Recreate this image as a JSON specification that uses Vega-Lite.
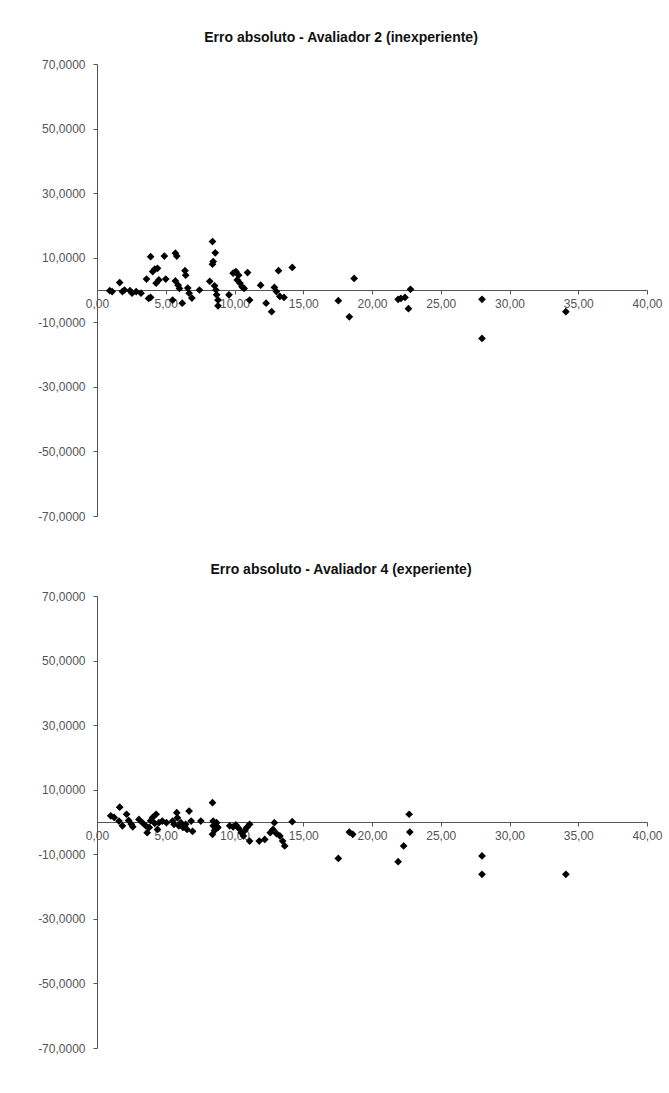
{
  "$schema": "https://vega.github.io/schema/vega-lite/v6.json",
  "padding": {"left": 37, "top": 31, "right": 5, "bottom": 5},
  "background": "white",
  "config": {
    "view": {"stroke": null},
    "font": "Liberation Sans",
    "axis": {"grid": false, "labelFont": "Liberation Sans", "labelFontSize": 12, "labelColor": "#555555", "domainColor": "#555555", "tickColor": "#555555", "tickSize": 4, "domainWidth": 1},
    "title": {"font": "Liberation Sans", "fontSize": 14, "fontWeight": "bold", "color": "#111111", "offset": 13, "dx": -31},
    "concat": {"spacing": 41}
  },
  "data": {"values": [
    {"panel": "A2", "x": 0.93, "y": -0.2}, {"panel": "A2", "x": 1.1, "y": -0.5}, {"panel": "A2", "x": 1.65, "y": 2.3}, {"panel": "A2", "x": 1.85, "y": -0.5},
    {"panel": "A2", "x": 2.0, "y": 0}, {"panel": "A2", "x": 2.4, "y": -0.2}, {"panel": "A2", "x": 2.55, "y": -1}, {"panel": "A2", "x": 2.85, "y": -0.5},
    {"panel": "A2", "x": 3.2, "y": -1}, {"panel": "A2", "x": 3.6, "y": 3.4}, {"panel": "A2", "x": 3.75, "y": -2.6}, {"panel": "A2", "x": 3.9, "y": 10.3},
    {"panel": "A2", "x": 3.9, "y": -2.3}, {"panel": "A2", "x": 4.05, "y": 5.7}, {"panel": "A2", "x": 4.2, "y": 6.5}, {"panel": "A2", "x": 4.4, "y": 6.7},
    {"panel": "A2", "x": 4.3, "y": 2.1}, {"panel": "A2", "x": 4.5, "y": 3.1}, {"panel": "A2", "x": 4.9, "y": 10.5}, {"panel": "A2", "x": 5.0, "y": 3.4},
    {"panel": "A2", "x": 5.5, "y": -3.1}, {"panel": "A2", "x": 5.7, "y": 11.4}, {"panel": "A2", "x": 5.8, "y": 10.5}, {"panel": "A2", "x": 5.7, "y": 2.8},
    {"panel": "A2", "x": 5.9, "y": 1.5}, {"panel": "A2", "x": 6.0, "y": 0.5}, {"panel": "A2", "x": 6.2, "y": -4.1}, {"panel": "A2", "x": 6.4, "y": 6.0},
    {"panel": "A2", "x": 6.45, "y": 4.6}, {"panel": "A2", "x": 6.6, "y": 0.6}, {"panel": "A2", "x": 6.7, "y": -1}, {"panel": "A2", "x": 6.9, "y": -2.5},
    {"panel": "A2", "x": 7.45, "y": 0}, {"panel": "A2", "x": 8.2, "y": 2.7}, {"panel": "A2", "x": 8.4, "y": 15}, {"panel": "A2", "x": 8.6, "y": 11.5},
    {"panel": "A2", "x": 8.45, "y": 8.8}, {"panel": "A2", "x": 8.4, "y": 8}, {"panel": "A2", "x": 8.55, "y": 1.3}, {"panel": "A2", "x": 8.65, "y": 0},
    {"panel": "A2", "x": 8.7, "y": -1.5}, {"panel": "A2", "x": 8.8, "y": -3.1}, {"panel": "A2", "x": 8.8, "y": -4.9}, {"panel": "A2", "x": 9.6, "y": -1.5},
    {"panel": "A2", "x": 9.9, "y": 5.2}, {"panel": "A2", "x": 10.1, "y": 5.7}, {"panel": "A2", "x": 10.3, "y": 4.6}, {"panel": "A2", "x": 10.2, "y": 3.1},
    {"panel": "A2", "x": 10.4, "y": 2.1}, {"panel": "A2", "x": 10.55, "y": 1.0}, {"panel": "A2", "x": 10.7, "y": 0.5}, {"panel": "A2", "x": 10.95, "y": 5.4},
    {"panel": "A2", "x": 11.1, "y": -3.1}, {"panel": "A2", "x": 11.9, "y": 1.5}, {"panel": "A2", "x": 12.3, "y": -4.1}, {"panel": "A2", "x": 12.7, "y": -6.7},
    {"panel": "A2", "x": 12.9, "y": 0.8}, {"panel": "A2", "x": 13.05, "y": -0.5}, {"panel": "A2", "x": 13.2, "y": 6.0}, {"panel": "A2", "x": 13.3, "y": -2.0},
    {"panel": "A2", "x": 13.6, "y": -2.3}, {"panel": "A2", "x": 14.2, "y": 7.0}, {"panel": "A2", "x": 17.55, "y": -3.3}, {"panel": "A2", "x": 18.35, "y": -8.3},
    {"panel": "A2", "x": 18.7, "y": 3.6}, {"panel": "A2", "x": 21.9, "y": -2.9}, {"panel": "A2", "x": 22.1, "y": -2.6}, {"panel": "A2", "x": 22.4, "y": -2.3},
    {"panel": "A2", "x": 22.65, "y": -5.8}, {"panel": "A2", "x": 22.8, "y": 0.2}, {"panel": "A2", "x": 28.0, "y": -2.9}, {"panel": "A2", "x": 28.0, "y": -15},
    {"panel": "A2", "x": 34.1, "y": -6.7},
    {"panel": "A4", "x": 1.0, "y": 1.9}, {"panel": "A4", "x": 1.25, "y": 1.4}, {"panel": "A4", "x": 1.65, "y": 4.6}, {"panel": "A4", "x": 1.6, "y": 0.3},
    {"panel": "A4", "x": 1.85, "y": -1.2}, {"panel": "A4", "x": 2.15, "y": 2.4}, {"panel": "A4", "x": 2.3, "y": 0.5}, {"panel": "A4", "x": 2.5, "y": -0.7},
    {"panel": "A4", "x": 2.6, "y": -1.5}, {"panel": "A4", "x": 3.05, "y": 0.8}, {"panel": "A4", "x": 3.3, "y": -0.2}, {"panel": "A4", "x": 3.55, "y": -1.2},
    {"panel": "A4", "x": 3.65, "y": -3.3}, {"panel": "A4", "x": 3.8, "y": -1.7}, {"panel": "A4", "x": 3.9, "y": 0.4}, {"panel": "A4", "x": 4.05, "y": 1.4},
    {"panel": "A4", "x": 4.2, "y": -0.4}, {"panel": "A4", "x": 4.3, "y": 2.4}, {"panel": "A4", "x": 4.4, "y": -2.3}, {"panel": "A4", "x": 4.5, "y": -0.2},
    {"panel": "A4", "x": 4.75, "y": 0.3}, {"panel": "A4", "x": 5.05, "y": -0.2}, {"panel": "A4", "x": 5.5, "y": 0.3}, {"panel": "A4", "x": 5.6, "y": -0.7},
    {"panel": "A4", "x": 5.8, "y": 2.9}, {"panel": "A4", "x": 5.85, "y": 1.3}, {"panel": "A4", "x": 5.95, "y": -1.2}, {"panel": "A4", "x": 6.1, "y": -0.2},
    {"panel": "A4", "x": 6.25, "y": -1.7}, {"panel": "A4", "x": 6.45, "y": -0.7}, {"panel": "A4", "x": 6.55, "y": -2.3}, {"panel": "A4", "x": 6.7, "y": 3.4},
    {"panel": "A4", "x": 6.85, "y": 0.3}, {"panel": "A4", "x": 6.95, "y": -2.9}, {"panel": "A4", "x": 7.55, "y": 0.3}, {"panel": "A4", "x": 8.4, "y": 6.0},
    {"panel": "A4", "x": 8.45, "y": 0.3}, {"panel": "A4", "x": 8.45, "y": -1.2}, {"panel": "A4", "x": 8.55, "y": -2.6}, {"panel": "A4", "x": 8.4, "y": -3.8},
    {"panel": "A4", "x": 8.7, "y": -0.2}, {"panel": "A4", "x": 8.8, "y": -1.7}, {"panel": "A4", "x": 9.65, "y": -1.2}, {"panel": "A4", "x": 9.9, "y": -1.5},
    {"panel": "A4", "x": 10.1, "y": -0.9}, {"panel": "A4", "x": 10.3, "y": -1.9}, {"panel": "A4", "x": 10.5, "y": -3.3}, {"panel": "A4", "x": 10.65, "y": -4.3},
    {"panel": "A4", "x": 10.75, "y": -2.6}, {"panel": "A4", "x": 10.9, "y": -1.7}, {"panel": "A4", "x": 11.1, "y": -0.7}, {"panel": "A4", "x": 11.1, "y": -5.9},
    {"panel": "A4", "x": 11.8, "y": -5.9}, {"panel": "A4", "x": 12.2, "y": -5.4}, {"panel": "A4", "x": 12.6, "y": -3.3}, {"panel": "A4", "x": 12.8, "y": -2.3},
    {"panel": "A4", "x": 12.9, "y": -0.2}, {"panel": "A4", "x": 13.05, "y": -3.6}, {"panel": "A4", "x": 13.3, "y": -4.3}, {"panel": "A4", "x": 13.5, "y": -5.9},
    {"panel": "A4", "x": 13.65, "y": -7.4}, {"panel": "A4", "x": 14.2, "y": 0.1}, {"panel": "A4", "x": 17.55, "y": -11.3}, {"panel": "A4", "x": 18.35, "y": -3.1},
    {"panel": "A4", "x": 18.6, "y": -3.8}, {"panel": "A4", "x": 21.9, "y": -12.3}, {"panel": "A4", "x": 22.3, "y": -7.4}, {"panel": "A4", "x": 22.7, "y": 2.4},
    {"panel": "A4", "x": 22.75, "y": -3.1}, {"panel": "A4", "x": 28.0, "y": -10.5}, {"panel": "A4", "x": 28.0, "y": -16.2}, {"panel": "A4", "x": 34.1, "y": -16.2}
  ]},
  "vconcat": [
    {
      "title": "Erro absoluto - Avaliador 2 (inexperiente)",
      "width": 550,
      "height": 452,
      "transform": [{"filter": "datum.panel === 'A2'"}],
      "mark": {"type": "point", "shape": "diamond", "filled": true, "color": "#000000", "size": 60, "opacity": 1},
      "encoding": {
        "x": {"field": "x", "type": "quantitative", "title": null, "scale": {"domain": [0, 40], "nice": false},
          "axis": {"values": [0, 5, 10, 15, 20, 25, 30, 35, 40], "offset": -226, "labelPadding": 4, "labelExpr": "replace(format(datum.value, '.2f'), '.', ',')", "labelFlush": false}},
        "y": {"field": "y", "type": "quantitative", "title": null, "scale": {"domain": [-70, 70], "nice": false, "zero": false},
          "axis": {"values": [-70, -50, -30, -10, 10, 30, 50, 70], "labelExpr": "replace(replace(format(datum.value, '.4f'), '.', ','), '\u2212', '-')", "labelPadding": 8}}
      }
    },
    {
      "title": "Erro absoluto - Avaliador 4 (experiente)",
      "width": 550,
      "height": 452,
      "transform": [{"filter": "datum.panel === 'A4'"}],
      "mark": {"type": "point", "shape": "diamond", "filled": true, "color": "#000000", "size": 60, "opacity": 1},
      "encoding": {
        "x": {"field": "x", "type": "quantitative", "title": null, "scale": {"domain": [0, 40], "nice": false},
          "axis": {"values": [0, 5, 10, 15, 20, 25, 30, 35, 40], "offset": -226, "labelPadding": 4, "labelExpr": "replace(format(datum.value, '.2f'), '.', ',')", "labelFlush": false}},
        "y": {"field": "y", "type": "quantitative", "title": null, "scale": {"domain": [-70, 70], "nice": false, "zero": false},
          "axis": {"values": [-70, -50, -30, -10, 10, 30, 50, 70], "labelExpr": "replace(replace(format(datum.value, '.4f'), '.', ','), '\u2212', '-')", "labelPadding": 8}}
      }
    }
  ]
}
